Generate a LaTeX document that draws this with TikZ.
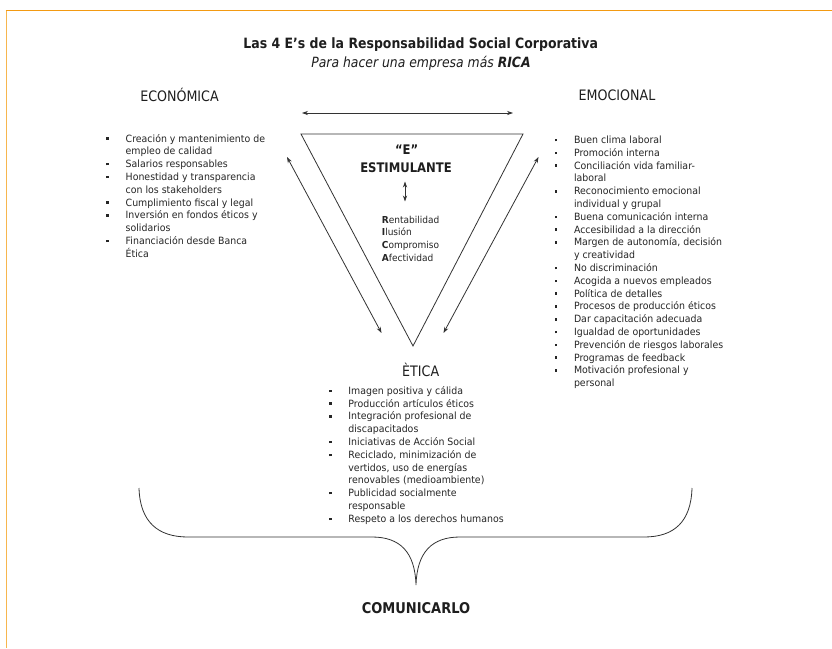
\documentclass[tikz,border=0pt]{standalone}
\usepackage{fontspec}
\setmainfont{DejaVu Sans}[FakeStretch=0.88]
\newfontfamily\listfont{DejaVu Sans}[FakeStretch=0.94]
\usetikzlibrary{arrows.meta}
\definecolor{orangeA}{HTML}{F39A12}
\definecolor{orangeB}{HTML}{F7B64E}
\definecolor{ink}{HTML}{1E1E1E}
\definecolor{listink}{HTML}{262626}
\definecolor{lineC}{HTML}{333333}
\newcommand\blt{\makebox[19.4pt][l]{\raisebox{2.2pt}{\rule{2.5pt}{2.5pt}}}}
\newcommand\ind{\hspace*{19.4pt}}
\tikzset{
  listbox/.style={inner sep=0pt, anchor=base west, text=listink,
    font=\listfont\fontsize{10}{12.8}\selectfont},
  headtxt/.style={inner sep=0pt, text=ink, font=\fontsize{14.4}{16}\selectfont},
  boldhead/.style={inner sep=0pt, text=ink, font=\fontsize{14.4}{16}\selectfont\bfseries},
  thinline/.style={draw=lineC, line width=0.8pt},
  dblarrow/.style={draw=lineC, line width=0.8pt, {Stealth[length=6pt,width=4.2pt]}-{Stealth[length=6pt,width=4.2pt]}},
}
\begin{document}
\begin{tikzpicture}[x=1pt,y=-1pt]
\useasboundingbox (0,0) rectangle (832,648);
\fill[white] (0,0) rectangle (832,648);
% frame
\draw[orangeB, line width=1.5pt] (6.5,10.3) -- (6.5,648);
\draw[orangeA, line width=1.5pt] (5.75,10.3) -- (832,10.3);

% titles
\node[boldhead, font=\fontsize{14.2}{16}\selectfont\bfseries] (title) at (420.7,45) {Las 4 E’s de la Responsabilidad Social Corporativa};
\node[headtxt, font=\fontsize{14.1}{16}\selectfont\itshape] (subtitle) at (421,63) {Para hacer una empresa más \textbf{RICA}};

% headings
\node[headtxt] (eco) at (179.5,95) {ECONÓMICA};
\node[headtxt] (emo) at (617,95) {EMOCIONAL};
\node[headtxt] (eti) at (420.7,369.5) {ÈTICA};
\node[boldhead, font=\fontsize{14.8}{16}\selectfont\bfseries] (com) at (416,608) {COMUNICARLO};

% triangle
\coordinate (tl) at (301,134);
\coordinate (tr) at (523,134);
\coordinate (tb) at (413,346);
\draw[thinline] (tl) -- (tr) -- (tb) -- cycle;

% arrows
\coordinate (ha) at (302,113);
\coordinate (hb) at (513,113);
\draw[dblarrow] (ha) -- (hb);
\coordinate (la) at (287,157);
\coordinate (lb) at (381.5,333);
\draw[dblarrow] (la) -- (lb);
\coordinate (ra) at (538.5,157);
\coordinate (rb) at (443.5,333);
\draw[dblarrow] (ra) -- (rb);

% inside triangle
\node[boldhead, font=\fontsize{13.2}{15}\selectfont\bfseries] (equote) at (406.7,149.5) {“E”};
\node[boldhead, font=\fontsize{13.2}{15}\selectfont\bfseries] (estim) at (406,168) {ESTIMULANTE};
\coordinate (va) at (405,181.5);
\coordinate (vb) at (405,201.5);
\draw[dblarrow, line width=0.9pt] (va) -- (vb);
\node[listbox, font=\listfont\fontsize{9.6}{12.9}\selectfont] (rica) at (381.7,223) {\begin{tabular}[t]{@{}l@{}}
\textbf{R}entabilidad\\
\textbf{I}lusión\\
\textbf{C}ompromiso\\
\textbf{A}fectividad
\end{tabular}};

% lists
\node[listbox] (ecolist) at (106.1,142) {\begin{tabular}[t]{@{}l@{}}
\blt Creación y mantenimiento de\\
\ind empleo de calidad\\
\blt Salarios responsables\\
\blt Honestidad y transparencia\\
\ind con los stakeholders\\
\blt Cumplimiento fiscal y legal\\
\blt Inversión en fondos éticos y\\
\ind solidarios\\
\blt Financiación desde Banca\\
\ind Ética
\end{tabular}};

\node[listbox] (emolist) at (554.4,143.5) {\begin{tabular}[t]{@{}l@{}}
\blt Buen clima laboral\\
\blt Promoción interna\\
\blt Conciliación vida familiar-\\
\ind laboral\\
\blt Reconocimiento emocional\\
\ind individual y grupal\\
\blt Buena comunicación interna\\
\blt Accesibilidad a la dirección\\
\blt Margen de autonomía, decisión\\
\ind y creatividad\\
\blt No discriminación\\
\blt Acogida a nuevos empleados\\
\blt Política de detalles\\
\blt Procesos de producción éticos\\
\blt Dar capacitación adecuada\\
\blt Igualdad de oportunidades\\
\blt Prevención de riesgos laborales\\
\blt Programas de feedback\\
\blt Motivación profesional y\\
\ind personal
\end{tabular}};

\node[listbox] (etilist) at (328.8,394.2) {\begin{tabular}[t]{@{}l@{}}
\blt Imagen positiva y cálida\\
\blt Producción artículos éticos\\
\blt Integración profesional de\\
\ind discapacitados\\
\blt Iniciativas de Acción Social\\
\blt Reciclado, minimización de\\
\ind vertidos, uso de energías\\
\ind renovables (medioambiente)\\
\blt Publicidad socialmente\\
\ind responsable\\
\blt Respeto a los derechos humanos
\end{tabular}};

% brace
\coordinate (bl) at (139,488);
\coordinate (br) at (692,488);
\coordinate (btip) at (416,585);
\draw[thinline] (bl) .. controls (140,522) and (158,537) .. (188,537) -- (372,537)
  .. controls (400,537) and (415,552) .. (btip)
  .. controls (417,552) and (432,537) .. (460,537) -- (644,537)
  .. controls (674,537) and (691,522) .. (br);
\end{tikzpicture}
\end{document}
